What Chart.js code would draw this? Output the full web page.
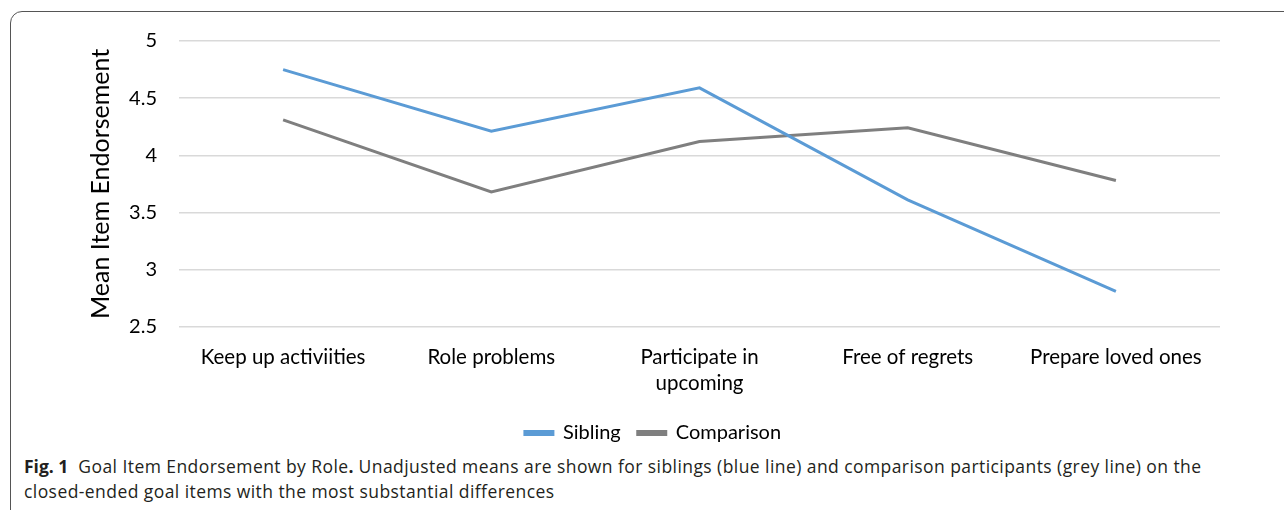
<!DOCTYPE html>
<html>
<head>
<meta charset="utf-8">
<script src="https://cdn.jsdelivr.net/npm/chart.js@4"></script>
<style>
  html, body { margin: 0; padding: 0; background: #fff; }
  body { width: 1284px; height: 510px; overflow: hidden; position: relative; }
  .frame {
    position: absolute; left: 10px; top: 11px; width: 1300px; height: 520px;
    border: 1.5px solid #555; border-top-left-radius: 12px; box-sizing: border-box;
  }
  .plot { position: absolute; left: 0; top: 0; width: 1284px; height: 453px; }
  .caption {
    position: absolute; left: 24px; top: 454px; width: 1250px;
    font-family: "Open Sans", sans-serif; font-size: 17.5px; line-height: 25px;
    letter-spacing: 0.43px; color: #231f20; white-space: nowrap;
  }
  .caption b { font-weight: 700; letter-spacing: 0; }
</style>
</head>
<body>
<div class="frame"></div>
<div class="plot"><canvas id="goalChart" width="1284" height="453"></canvas></div>
<div class="caption"><b>Fig. 1</b>&nbsp; Goal Item Endorsement by Role<b>.</b> Unadjusted means are shown for siblings (blue line) and comparison participants (grey line) on the<br>closed-ended goal items with the most substantial differences</div>

<script>
const goalItems = ['Keep up activiities', 'Role problems', ['Participate in', 'upcoming'], 'Free of regrets', 'Prepare loved ones'];
const siblingMeans = [4.75, 4.21, 4.59, 3.61, 2.81];
const comparisonMeans = [4.31, 3.68, 4.12, 4.24, 3.78];
const yTicks = [2.5, 3, 3.5, 4, 4.5, 5];

const chartFont = 'Lato, "Open Sans", sans-serif';

function renderChart() {
  const ctx = document.getElementById('goalChart').getContext('2d');
  new Chart(ctx, {
    type: 'line',
    data: {
      labels: goalItems,
      datasets: [
        {
          label: 'Sibling',
          data: siblingMeans,
          borderColor: '#5b9bd5',
          backgroundColor: '#5b9bd5',
          borderWidth: 3,
          pointRadius: 0,
          tension: 0
        },
        {
          label: 'Comparison',
          data: comparisonMeans,
          borderColor: '#7f7f7f',
          backgroundColor: '#7f7f7f',
          borderWidth: 3,
          pointRadius: 0,
          tension: 0
        }
      ]
    },
    options: {
      responsive: false,
      animation: false,
      layout: { padding: { top: 41, right: 64, left: 86, bottom: 0 } },
      plugins: {
        tooltip: { enabled: false },
        legend: {
          position: 'bottom',
          labels: {
            color: '#000',
            font: { family: chartFont, size: 20 },
            boxWidth: 28,
            boxHeight: 3,
            padding: 17
          }
        }
      },
      scales: {
        x: {
          offset: true,
          grid: { display: false },
          border: { display: false },
          ticks: {
            color: '#000',
            font: { family: chartFont, size: 20.5, lineHeight: 1.3 },
            maxRotation: 0,
            autoSkip: false,
            padding: 9
          }
        },
        y: {
          min: 2.5,
          max: 5,
          afterBuildTicks: (axis) => { axis.ticks = yTicks.map(v => ({ value: v })); },
          afterFit: (axis) => { axis.width = 93; },
          grid: { color: '#d9d9d9', lineWidth: 1.5, drawTicks: false },
          border: { display: false },
          ticks: {
            color: '#000',
            font: { family: chartFont, size: 20 },
            padding: 22,
            callback: (v) => String(v)
          },
          title: {
            display: true,
            text: 'Mean Item Endorsement',
            color: '#000',
            font: { family: chartFont, size: 25 },
            padding: { top: 0, bottom: 0 }
          }
        }
      }
    }
  });
}

renderChart();
</script>
</body>
</html>
